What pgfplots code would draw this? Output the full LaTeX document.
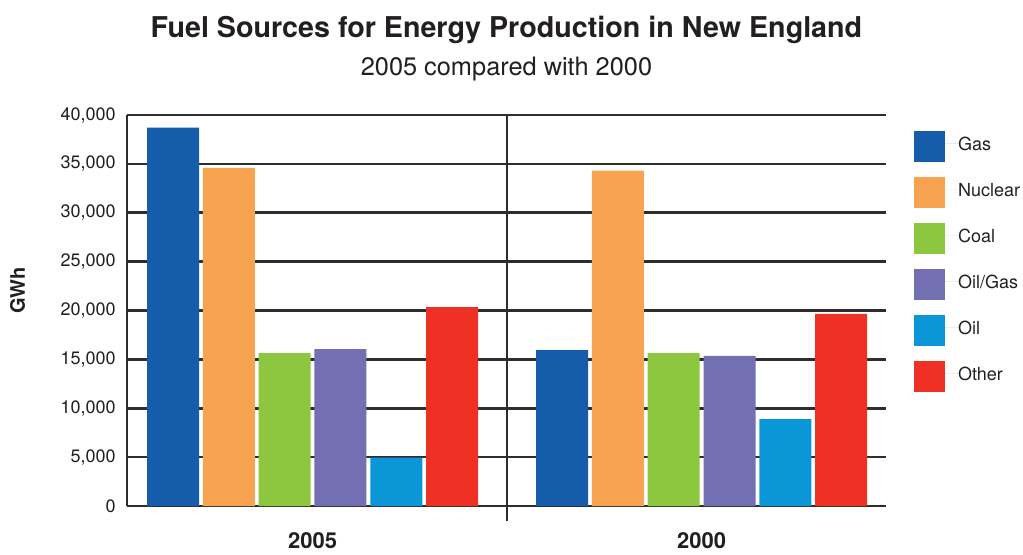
\documentclass[border=0pt]{standalone}
\usepackage{fontspec}
\setmainfont{TeX Gyre Heros}
\usepackage{pgfplots}
\pgfplotsset{compat=1.18}
\usepackage{pgfplotstable}

\definecolor{cGas}{RGB}{21,93,170}
\definecolor{cNuc}{RGB}{247,163,80}
\definecolor{cCoal}{RGB}{141,198,63}
\definecolor{cOilGas}{RGB}{114,111,178}
\definecolor{cOil}{RGB}{11,151,215}
\definecolor{cOther}{RGB}{238,49,36}
\definecolor{ink}{RGB}{35,31,32}
\definecolor{gridc}{RGB}{45,45,45}

% 2005 at x=0, 2000 at x=1
\pgfplotstableread{
x  gas   nuc   coal  oilgas oil  other
0  38700 34600 15650 16050  4950 20350
1  15950 34300 15650 15350  8900 19650
}\fuel

\begin{document}
\begin{tikzpicture}[x=1pt,y=1pt]
\begin{axis}[
  at={(0,0)}, anchor=south west,
  scale only axis,
  width=569.25pt, height=293.25pt,
  xmin=-0.477, xmax=1.474,
  ymin=0, ymax=40000,
  clip=false,
  axis lines=left,
  axis line style={-, line width=2pt, color=gridc},
  ybar=2.85pt, bar width=39pt,
  xtick={0,1}, xticklabels={2005,2000},
  ytick={0,5000,...,40000},
  major tick length=0pt,
  scaled y ticks=false,
  ymajorgrids,
  grid style={line width=1.9pt, color=gridc},
  /pgf/number format/.cd, 1000 sep={,}, assume math mode=true,
  /pgfplots/.cd,
  yticklabel style={font=\fontsize{13.5}{15}\selectfont, color=ink, xshift=-5pt},
  xticklabel style={font=\fontsize{16.5}{18}\selectfont\bfseries, color=ink, yshift=-16.5pt},
  ylabel={GWh},
  ylabel style={font=\fontsize{15}{17}\selectfont\bfseries, color=ink,
    at={(axis description cs:-0.144,0.552)}, anchor=center},
  legend style={at={(axis description cs:1.0369,0.959)}, anchor=north west,
    draw=none, fill=none, inner sep=0pt, outer sep=0pt, row sep=11.25pt,
    font=\fontsize{13.5}{15}\selectfont, text=ink,
    nodes={inner sep=0pt, text depth=0pt}},
  legend cell align=left,
  legend image code/.code={\fill[#1] (0pt,-13.65pt) rectangle (23.25pt,9.6pt);
    \path (23.25pt,0) -- (33pt,0);},
  every axis plot/.append style={draw=none},
]
\addplot[fill=cGas]    table[x=x,y=gas]    {\fuel};
\addplot[fill=cNuc]    table[x=x,y=nuc]    {\fuel};
\addplot[fill=cCoal]   table[x=x,y=coal]   {\fuel};
\addplot[fill=cOilGas] table[x=x,y=oilgas] {\fuel};
\addplot[fill=cOil]    table[x=x,y=oil]    {\fuel};
\addplot[fill=cOther]  table[x=x,y=other]  {\fuel};
\legend{Gas,Nuclear,Coal,Oil/Gas,Oil,Other}
\draw[line width=2pt, gridc] (axis cs:0.5,40000) -- ([yshift=-11pt]axis cs:0.5,0);
\end{axis}
\node[font=\fontsize{21.5}{24}\selectfont\bfseries, text=ink] at (284.6pt,357pt) {Fuel Sources for Energy Production in New England};
\node[font=\fontsize{19}{21}\selectfont, text=ink] at (284.6pt,328pt) {2005 compared with 2000};
\pgfresetboundingbox
\path (-95.25pt,-36pt) rectangle (672pt,379.5pt);
\end{tikzpicture}
\end{document}
